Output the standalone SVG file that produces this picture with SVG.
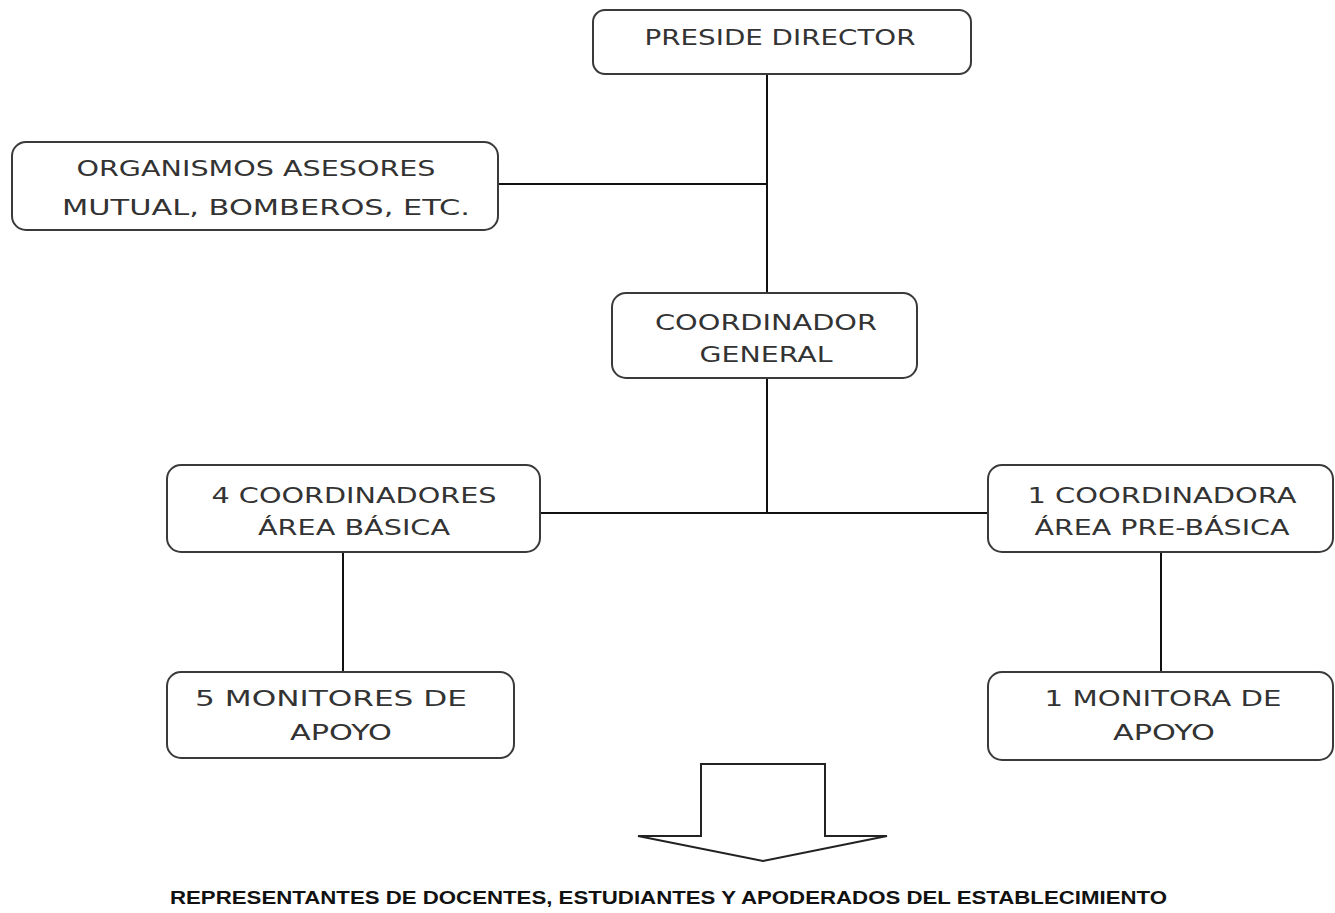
<svg xmlns="http://www.w3.org/2000/svg" width="1335" height="913" viewBox="0 0 1335 913">
<style>
.box{fill:#fff;stroke:#3a3a3a;stroke-width:2}
.t{font-family:"DejaVu Sans","Liberation Sans",sans-serif;font-size:21px;fill:#333;text-anchor:middle}
.c{stroke:#111;stroke-width:2;fill:none}
.b{font-family:"Liberation Sans",sans-serif;font-weight:bold;font-size:18px;fill:#111}
</style>
<rect width="1335" height="913" fill="#fff"/>
<g id="connectors">
<line class="c" x1="767" y1="74" x2="767" y2="293"/>
<line class="c" x1="498" y1="184" x2="767" y2="184"/>
<line class="c" x1="767" y1="378" x2="767" y2="513"/>
<line class="c" x1="540" y1="513" x2="988" y2="513"/>
<line class="c" x1="343" y1="552" x2="343" y2="672"/>
<line class="c" x1="1161" y1="552" x2="1161" y2="672"/>
</g>
<g id="n-director">
<rect class="box" x="593" y="10" width="378" height="64" rx="12"/>
<text class="t" x="780" y="45" textLength="271" lengthAdjust="spacingAndGlyphs">PRESIDE DIRECTOR</text>
</g>
<g id="n-organismos">
<rect class="box" x="12" y="142" width="486" height="88" rx="14"/>
<text class="t" x="256" y="176" textLength="359" lengthAdjust="spacingAndGlyphs">ORGANISMOS ASESORES</text>
<text class="t" x="266" y="215" textLength="408" lengthAdjust="spacingAndGlyphs">MUTUAL, BOMBEROS, ETC.</text>
</g>
<g id="n-coordinador">
<rect class="box" x="612" y="293" width="305" height="85" rx="14"/>
<text class="t" x="766" y="330" textLength="222" lengthAdjust="spacingAndGlyphs">COORDINADOR</text>
<text class="t" x="766" y="362" textLength="133" lengthAdjust="spacingAndGlyphs">GENERAL</text>
</g>
<g id="n-basica">
<rect class="box" x="167" y="465" width="373" height="87" rx="14"/>
<text class="t" x="354" y="503" textLength="285" lengthAdjust="spacingAndGlyphs">4 COORDINADORES</text>
<text class="t" x="354" y="535" textLength="192" lengthAdjust="spacingAndGlyphs">ÁREA BÁSICA</text>
</g>
<g id="n-prebasica">
<rect class="box" x="988" y="465" width="345" height="87" rx="14"/>
<text class="t" x="1162" y="503" textLength="269" lengthAdjust="spacingAndGlyphs">1 COORDINADORA</text>
<text class="t" x="1162" y="535" textLength="255" lengthAdjust="spacingAndGlyphs">ÁREA PRE-BÁSICA</text>
</g>
<g id="n-monitores">
<rect class="box" x="167" y="672" width="347" height="86" rx="14"/>
<text class="t" x="331" y="706" textLength="272" lengthAdjust="spacingAndGlyphs">5 MONITORES DE</text>
<text class="t" x="341" y="740" textLength="102" lengthAdjust="spacingAndGlyphs">APOYO</text>
</g>
<g id="n-monitora">
<rect class="box" x="988" y="672" width="345" height="88" rx="14"/>
<text class="t" x="1163" y="706" textLength="237" lengthAdjust="spacingAndGlyphs">1 MONITORA DE</text>
<text class="t" x="1164" y="740" textLength="102" lengthAdjust="spacingAndGlyphs">APOYO</text>
</g>
<g id="n-arrow">
<polygon points="701,764 825,764 825,836 887,836 763,861 638,836 701,836" fill="#fff" stroke="#222" stroke-width="2" stroke-linejoin="miter"/>
</g>
<g id="n-representantes">
<text class="b" x="170" y="904" textLength="997" lengthAdjust="spacingAndGlyphs">REPRESENTANTES DE DOCENTES, ESTUDIANTES Y APODERADOS DEL ESTABLECIMIENTO</text>
</g>
</svg>
